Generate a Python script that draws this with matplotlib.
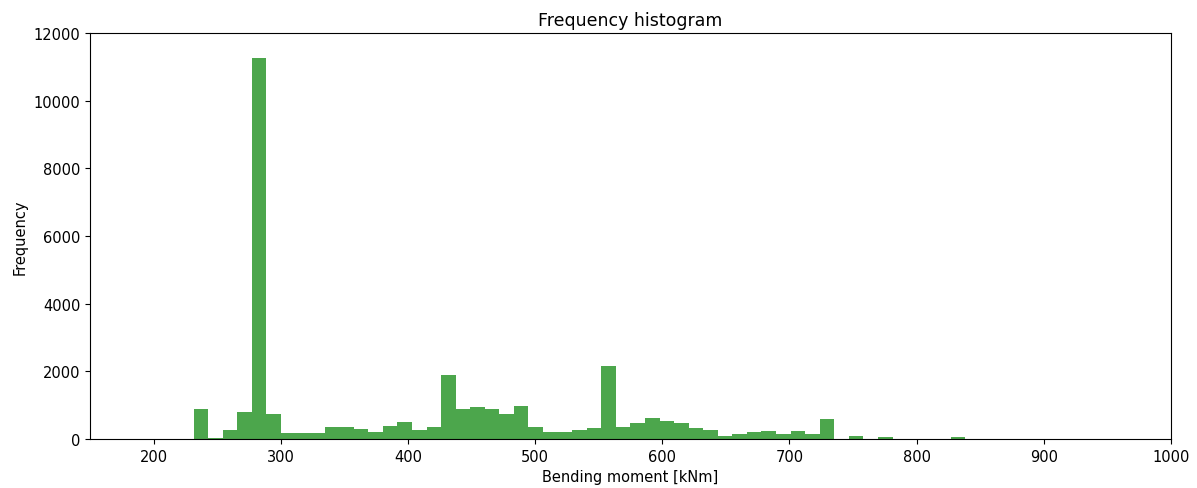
import numpy as np
import matplotlib
matplotlib.use("Agg")
import matplotlib.pyplot as plt

# histogram: 53 equal bins from ~231 to ~838 kNm
bin_lo = 231.4
bin_hi = 838.3
counts = [880, 40, 266, 800, 11250, 745, 187, 187, 187, 345,
          364, 296, 197, 394, 493, 266, 364, 1890, 887, 936,
          887, 740, 985, 345, 217, 217, 276, 315, 2160, 345,
          463, 621, 542, 463, 320, 266, 98, 148, 197, 236,
          148, 227, 148, 600, 0, 98, 0, 50, 0, 0,
          0, 0, 50]
xticks = [200, 300, 400, 500, 600, 700, 800, 900, 1000]
yticks = [0, 2000, 4000, 6000, 8000, 10000, 12000]

edges = np.linspace(bin_lo, bin_hi, len(counts) + 1)

fig = plt.figure(figsize=(11.97, 4.89), dpi=100)
ax = fig.add_axes([0.0752, 0.1002, 0.9031, 0.8303])
ax.hist(edges[:-1], bins=edges, weights=counts, facecolor='g', alpha=0.7)

ax.set_xlim(150, 1000)
ax.set_ylim(0, 12000)
ax.set_xticks(xticks)
ax.set_yticks(yticks)
ax.tick_params(labelsize=10.5)
ax.set_xlabel("Bending moment [kNm]", fontsize=10.5)
ax.set_ylabel("Frequency", fontsize=10.5)
ax.set_title("Frequency histogram", fontsize=12.5)

fig.savefig("out.png", dpi=100)
